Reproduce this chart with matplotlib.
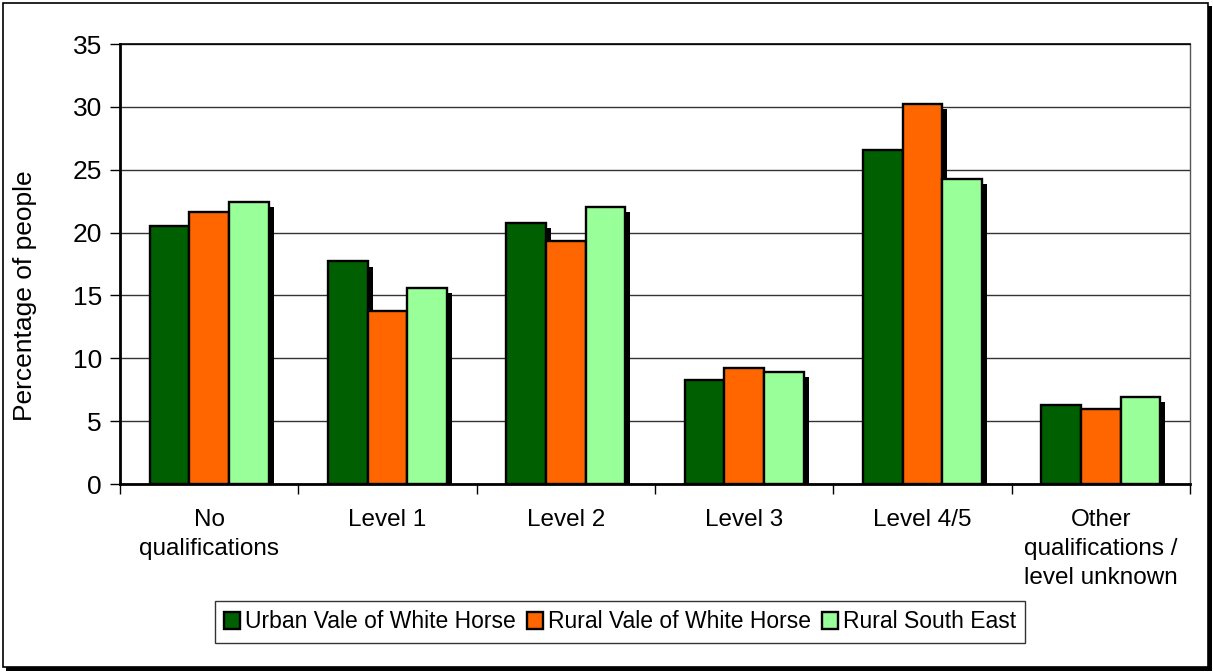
import numpy as np
import matplotlib
matplotlib.use("Agg")
import matplotlib.pyplot as plt
from matplotlib.patches import Rectangle

categories = ["No\nqualifications", "Level 1", "Level 2", "Level 3", "Level 4/5",
              "Other\nqualifications /\nlevel unknown"]
series_names = ["Urban Vale of White Horse", "Rural Vale of White Horse", "Rural South East"]
urban_vwh = [20.5, 17.7, 20.8, 8.3, 26.6, 6.3]
rural_vwh = [21.6, 13.8, 19.3, 9.2, 30.2, 6.0]
rural_se = [22.4, 15.6, 22.0, 8.9, 24.3, 6.9]
colors = ["#005F00", "#FF6600", "#99FF99"]

plt.rcParams['font.family'] = ['Liberation Sans', 'DejaVu Sans']

fig = plt.figure(figsize=(12.13, 6.72), dpi=100)
ax = fig.add_axes([120/1213, 1-484/672, 1070/1213, 440/672])

# outer frame with shadow
fig.patches.append(Rectangle((6/1213, 1/672), 1206/1213, 665/672, transform=fig.transFigure,
                             facecolor="black", edgecolor="none", zorder=-3))
fig.patches.append(Rectangle((3/1213, 5/672), 1205/1213, 664/672, transform=fig.transFigure,
                             facecolor="white", edgecolor="black", linewidth=1.2, zorder=-2))

x = np.arange(len(categories))
w = 0.222
data = [urban_vwh, rural_vwh, rural_se]
for i, vals in enumerate(data):
    pos = x + (i - 1) * w
    # drop shadow
    ax.bar(pos + 0.028, np.array(vals) - 0.4, w, color="black", zorder=2)
for i, vals in enumerate(data):
    pos = x + (i - 1) * w
    ax.bar(pos, vals, w, color=colors[i], edgecolor="black", linewidth=1.7,
           label=series_names[i], zorder=3)

ax.set_xlim(-0.5, len(categories) - 0.5)
ax.set_ylim(0, 35)
ax.set_yticks(range(0, 36, 5))
ax.yaxis.grid(True, color="#333333", linewidth=1.0)
ax.set_axisbelow(True)
ax.set_xticks(x)
ax.set_xticklabels(categories, fontsize=17.5, linespacing=1.4)
ax.set_xticks(np.arange(-0.5, len(categories)), minor=True)
ax.tick_params(axis="x", which="major", length=0, pad=18)
ax.tick_params(axis="x", which="minor", length=7, width=1, direction="out")
ax.tick_params(axis="y", labelsize=19, length=7, width=1, pad=6)

for s in ["left", "bottom"]:
    ax.spines[s].set_linewidth(2)
ax.spines["right"].set_linewidth(1)
ax.spines["right"].set_color("#555555")
ax.spines["top"].set_linewidth(1.2)

fig.text(25/1213, 1-296/672, "Percentage of people", rotation=90, fontsize=19,
         ha="center", va="center")

leg = fig.legend(loc="center", bbox_to_anchor=(620/1213, 1-622/672), ncol=3,
                 fontsize=16.5, frameon=True, fancybox=False, edgecolor="black",
                 handlelength=0.7, handleheight=0.7, handletextpad=0.2,
                 columnspacing=0.5, borderpad=0.4)
leg.get_frame().set_linewidth(1.0)

fig.savefig("out.png", dpi=100)
